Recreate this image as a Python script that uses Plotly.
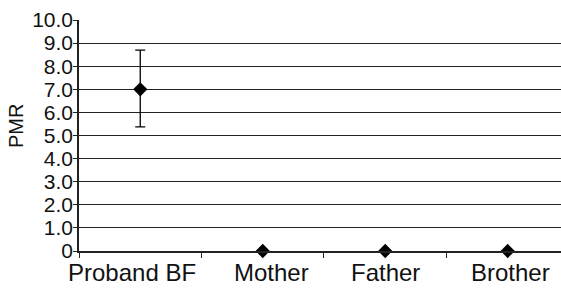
import plotly.graph_objects as go

categories = ["Proband BF", "Mother", "Father", "Brother"]
pmr = [7.0, 0, 0, 0]
err_plus = [1.7, 0, 0, 0]
err_minus = [1.63, 0, 0, 0]
ytick_vals = [0, 1, 2, 3, 4, 5, 6, 7, 8, 9, 10]
ytick_text = ["0", "1.0", "2.0", "3.0", "4.0", "5.0", "6.0", "7.0", "8.0", "9.0", "10.0"]

# label horizontal nudges (style only)
label_shift = [-8, 9, 0, 3]

fig = go.Figure()
fig.add_trace(go.Scatter(
    x=categories, y=pmr, mode="markers",
    marker=dict(symbol="diamond", size=11, color="black"),
    error_y=dict(type="data", symmetric=False, array=err_plus, arrayminus=err_minus,
                 color="black", thickness=1.3, width=5),
    cliponaxis=False,
))
annotations = [dict(text="PMR", xref="paper", yref="paper",
                    x=(16 - 79) / 482, y=(251 - 126) / 231,
                    xanchor="center", yanchor="middle", textangle=-90,
                    showarrow=False, font=dict(size=20, color="#111"))]
for c, s in zip(categories, label_shift):
    annotations.append(dict(text=c, x=c, xref="x", yref="paper", y=0,
                            yanchor="top", xanchor="center", xshift=s, yshift=-6,
                            showarrow=False, font=dict(size=24, color="#111")))
fig.update_layout(
    width=561, height=289,
    margin=dict(l=79, r=0, t=20, b=38),
    paper_bgcolor="white", plot_bgcolor="white",
    showlegend=False,
    font=dict(family="Liberation Sans, Arial", size=20, color="black"),
    annotations=annotations,
)
fig.update_xaxes(
    type="category", categoryarray=categories, range=[-0.5, 3.435], automargin=False,
    showline=True, linecolor="#222", linewidth=1.5, showticklabels=False,
    ticks="outside", tickson="boundaries", ticklen=5, tickcolor="#222",
    showgrid=False,
)
fig.update_yaxes(
    range=[0, 10], tickvals=ytick_vals, ticktext=ytick_text, automargin=False,
    showline=True, linecolor="#222", linewidth=1.5,
    ticks="outside", ticklen=4, tickcolor="#222", ticklabelstandoff=-4,
    showgrid=True, gridcolor="#222", gridwidth=1.2,
    zeroline=False, tickfont=dict(size=21, color="#111"),
)
fig.write_html("out.html", config={"displayModeBar": False},
               post_script="document.body.style.margin='0';document.body.style.overflow='hidden';")
